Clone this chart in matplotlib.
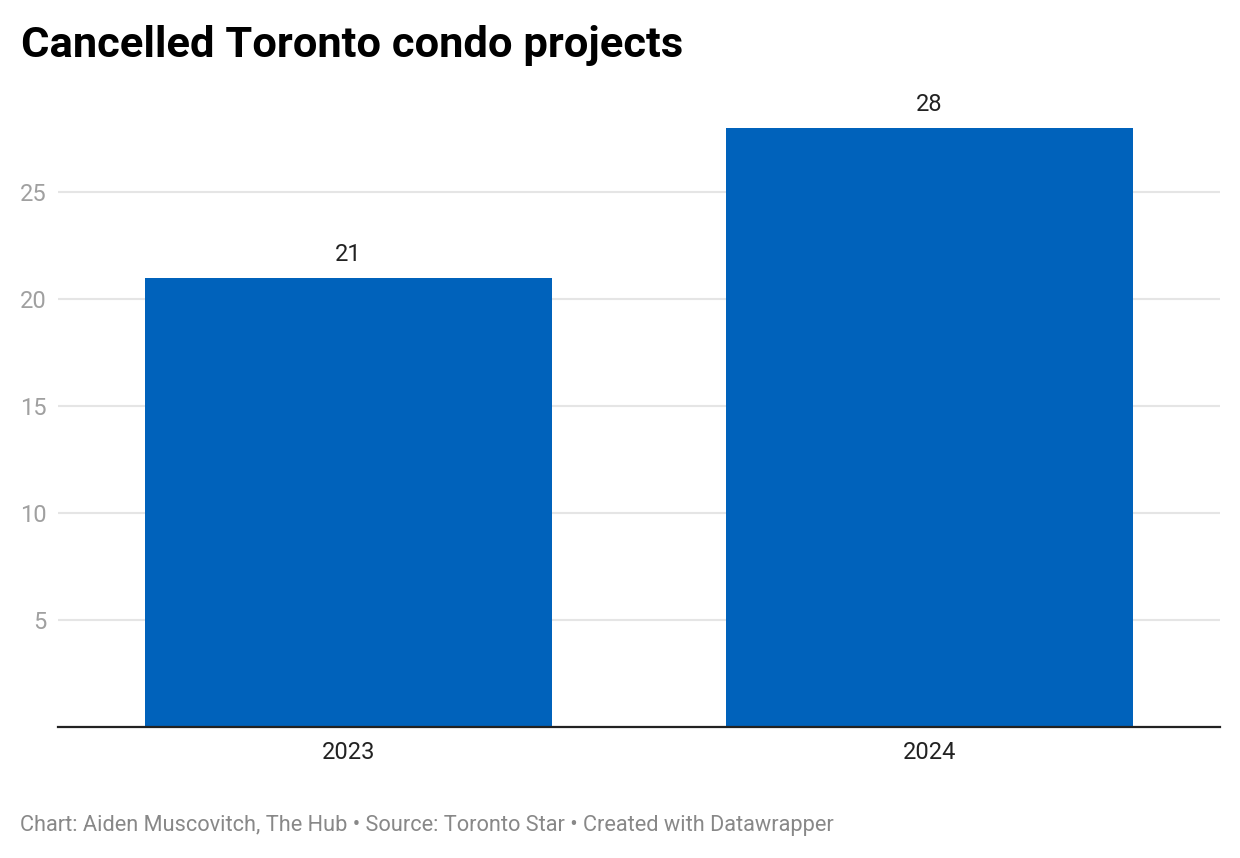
import matplotlib.pyplot as plt
import numpy as np

# data
years = ['2023', '2024']
cancelled = [21, 28]
y_ticks = [5, 10, 15, 20, 25]

plt.rcParams['font.family'] = ['Roboto', 'DejaVu Sans']

fig = plt.figure(figsize=(12.4, 8.58), dpi=100)
W, H = 1240, 858
ax = fig.add_axes([58 / W, (H - 727) / H, 1162 / W, (727 - 128) / H])

x_pos = np.arange(len(years))
bars = ax.bar(x_pos, cancelled, width=0.7, color='#0062bb', zorder=2)

ax.set_xlim(-0.5, 1.5)
ax.set_ylim(0, 28)
ax.set_yticks(y_ticks)
ax.set_xticks(x_pos)
ax.set_xticklabels(years)

ax.grid(axis='y', color='#e5e5e5', linewidth=1.5, zorder=0)
ax.tick_params(axis='y', length=0, pad=8, labelsize=17, labelcolor='#a0a0a0')
ax.tick_params(axis='x', length=0, pad=10, labelsize=17, labelcolor='#222222')

for s in ['top', 'right', 'left']:
    ax.spines[s].set_visible(False)
ax.spines['bottom'].set_color('#222222')
ax.spines['bottom'].set_linewidth(1.6)
ax.spines['bottom'].set_zorder(3)

# value labels above bars
for xi, v in zip(x_pos, cancelled):
    ax.annotate(str(v), (xi, v), xytext=(0, 17), textcoords='offset points',
                ha='center', va='center', fontsize=17, color='#222222',
                annotation_clip=False)

fig.text(21 / W, 1 - 45 / H, 'Cancelled Toronto condo projects',
         fontsize=31.3, fontweight='bold', color='#000000', va='center', ha='left')
fig.text(20 / W, 1 - 825 / H,
         'Chart: Aiden Muscovitch, The Hub \u2022 Source: Toronto Star \u2022 Created with Datawrapper',
         fontsize=15.7, color='#888888', va='center', ha='left')

fig.savefig('out.png', dpi=100)
